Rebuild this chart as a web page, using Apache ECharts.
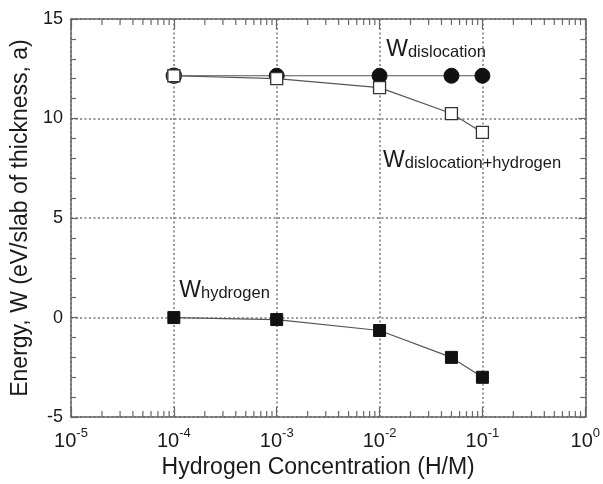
<!DOCTYPE html>
<html>
<head>
<meta charset="utf-8">
<script src="https://cdn.jsdelivr.net/npm/echarts@6/dist/echarts.min.js"></script>
<style>
  html, body { margin: 0; padding: 0; background: #fff; }
  #main { width: 603px; height: 484px; }
</style>
</head>
<body>
<div id="main"></div>
<script>
// hydrogen concentration (H/M)
var conc = [1e-4, 1e-3, 1e-2, 5e-2, 1e-1];
// energies, eV/slab
var wDislocation = [12.15, 12.15, 12.15, 12.15, 12.15];
var wDisHyd = [12.15, 12.0, 11.55, 10.25, 9.3];
var wHydrogen = [0, -0.1, -0.65, -2.0, -3.0];

// minor ticks of the log axis: 2..9 in each decade
var decades = [1e-5, 1e-4, 1e-3, 1e-2, 1e-1];
var mantissas = [2, 3, 4, 5, 6, 7, 8, 9];

// text labels inside the plot: [x, y] in data units (left edge, middle)
var notes = [
    { text: '{w|W}{s|dislocation}', at: [0.0116, 13.55] },
    { text: '{w|W}{s|dislocation+hydrogen}', at: [0.0108, 7.95] },
    { text: '{w|W}{s|hydrogen}', at: [1.13e-4, 1.45] }
];

var FONT = '"Liberation Sans", Arial, sans-serif';
var AXIS_COL = '#666';
var TXT = '#1a1a1a';

function pairs(xs, ys) {
    var out = [];
    for (var i = 0; i < xs.length; i++) out.push([xs[i], ys[i]]);
    return out;
}

var minorTicks = [];
for (var d = 0; d < decades.length; d++) {
    for (var m = 0; m < mantissas.length; m++) {
        minorTicks.push([decades[d] * mantissas[m], 0]);
    }
}

var myChart = echarts.init(document.getElementById('main'));

function expLabel(v) {
    var e = Math.round(Math.log(v) / Math.LN10);
    return '{b|10}{e|' + e + '}';
}

var gridDots = { color: '#777', width: 1.5, type: [2, 2.5] };

var xBase = {
    type: 'log',
    logBase: 10,
    min: 1e-5,
    max: 1,
    interval: 1,
    axisLine: { show: true, onZero: false, lineStyle: { color: AXIS_COL, width: 1.5 } },
    axisTick: { show: true, inside: true, length: 10, lineStyle: { color: AXIS_COL, width: 1.2 } },
    minorTick: { show: false },
    splitLine: { show: false }
};

var yBase = {
    type: 'value',
    min: -5,
    max: 15,
    interval: 5,
    axisLine: { show: true, onZero: false, lineStyle: { color: AXIS_COL, width: 1.5 } },
    axisTick: { show: true, inside: true, length: 7, lineStyle: { color: AXIS_COL, width: 1.2 } },
    minorTick: { show: true, splitNumber: 5, length: 5, lineStyle: { color: AXIS_COL, width: 1.2 } },
    splitLine: { show: false }
};

var option = {
    backgroundColor: '#fff',
    animation: false,
    grid: { left: 71, right: 15, top: 19, bottom: 63 },
    xAxis: [
        echarts.util.merge({
            position: 'bottom',
            name: 'Hydrogen Concentration (H/M)',
            nameLocation: 'middle',
            nameGap: 33,
            nameTextStyle: { fontFamily: FONT, fontSize: 23, color: TXT, padding: [0, 20, 0, 0] },
            axisLabel: {
                margin: 10,
                formatter: expLabel,
                rich: {
                    b: { fontFamily: FONT, fontSize: 20, color: TXT, lineHeight: 24, verticalAlign: 'bottom' },
                    e: { fontFamily: FONT, fontSize: 13, color: TXT, lineHeight: 24, verticalAlign: 'top' }
                }
            },
            splitLine: { show: true, lineStyle: gridDots }
        }, xBase, false),
        echarts.util.merge({
            position: 'top',
            axisLabel: { show: false }
        }, xBase, false)
    ],
    yAxis: [
        echarts.util.merge({
            position: 'left',
            name: 'Energy, W (eV/slab of thickness, a)',
            nameLocation: 'middle',
            nameGap: 39,
            nameTextStyle: { fontFamily: FONT, fontSize: 23, color: TXT },
            axisLabel: { margin: 8, fontFamily: FONT, fontSize: 18, color: TXT },
            splitLine: { show: true, lineStyle: gridDots }
        }, yBase, false),
        echarts.util.merge({
            position: 'right',
            axisLabel: { show: false }
        }, yBase, false)
    ],
    series: [
        {
            name: 'minor ticks',
            type: 'custom',
            silent: true,
            xAxisIndex: 0,
            yAxisIndex: 0,
            data: minorTicks,
            renderItem: function (params, api) {
                var v = api.value(0);
                var b = api.coord([v, -5]);
                var t = api.coord([v, 15]);
                var st = { stroke: AXIS_COL, lineWidth: 1.2 };
                return {
                    type: 'group',
                    children: [
                        { type: 'line', shape: { x1: b[0], y1: b[1], x2: b[0], y2: b[1] - 6 }, style: st },
                        { type: 'line', shape: { x1: t[0], y1: t[1], x2: t[0], y2: t[1] + 6 }, style: st }
                    ]
                };
            }
        },
        {
            name: 'W dislocation',
            type: 'line',
            data: pairs(conc, wDislocation).map(function (p, i) {
                if (i === 0) {
                    return { value: p, itemStyle: { color: '#fff', borderColor: '#222', borderWidth: 1.5 } };
                }
                return p;
            }),
            symbol: 'circle',
            symbolSize: 15,
            lineStyle: { color: '#555', width: 1.2 },
            itemStyle: { color: '#111', borderColor: '#111', borderWidth: 1 },
            z: 3
        },
        {
            name: 'W dislocation+hydrogen',
            type: 'line',
            data: pairs(conc, wDisHyd),
            symbol: 'rect',
            symbolSize: 12,
            lineStyle: { color: '#555', width: 1.2 },
            itemStyle: { color: '#fff', borderColor: '#333', borderWidth: 1.3 },
            z: 4
        },
        {
            name: 'W hydrogen',
            type: 'line',
            data: pairs(conc, wHydrogen),
            symbol: 'rect',
            symbolSize: 12,
            lineStyle: { color: '#555', width: 1.2 },
            itemStyle: { color: '#111', borderColor: '#111', borderWidth: 1 },
            z: 4
        }
    ]
};

myChart.setOption(option);

// place text notes from data coordinates
var graphics = [];
for (var i = 0; i < notes.length; i++) {
    var px = myChart.convertToPixel({ xAxisIndex: 0, yAxisIndex: 0 }, notes[i].at);
    graphics.push({
        type: 'text',
        x: px[0],
        y: px[1],
        z: 10,
        style: {
            text: notes[i].text,
            verticalAlign: 'middle',
            align: 'left',
            rich: {
                w: { fontFamily: FONT, fontSize: 23, fill: TXT, lineHeight: 26, verticalAlign: 'bottom' },
                s: { fontFamily: FONT, fontSize: 16.5, fill: TXT, lineHeight: 24, verticalAlign: 'bottom' }
            }
        }
    });
}
myChart.setOption({ graphic: graphics });
</script>
</body>
</html>
